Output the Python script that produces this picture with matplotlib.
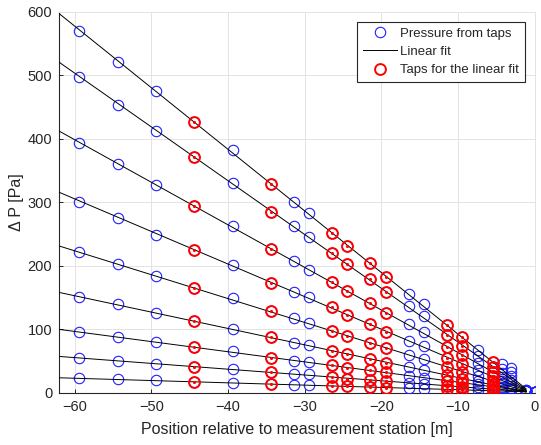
import numpy as np
import matplotlib
matplotlib.use("Agg")
import matplotlib.pyplot as plt

# tap positions relative to the measurement station [m]
tap_x = [-59.4, -54.4, -49.4, -44.4, -39.4, -34.4, -31.4, -29.4, -26.4, -24.4, -21.4,
         -19.4, -16.4, -14.4, -11.4, -9.4, -7.4, -5.4, -4.2, -3.1, -1.1, 0.0]

# taps used for the linear fit
fit_x = [-44.4, -34.4, -26.4, -24.4, -21.4, -19.4, -11.4, -9.4, -5.4]

# pressure difference at each tap, one list per run [Pa]
dp_1 = [570, 521, 475, 427, 382, 328, 301, 283, 252, 231, 204, 183, 155, 140, 106, 87, 67, 48, 45, 39, 4, 1]
dp_2 = [497, 453, 412, 371, 331, 285, 262, 245, 220, 202, 179, 159, 136, 121, 91, 74, 58, 41, 38, 33, 4, 1]
dp_3 = [394, 360, 327, 294, 262, 226, 207, 194, 174, 160, 141, 126, 108, 96, 72, 59, 47, 33, 31, 26, 3, 1]
dp_4 = [301, 275, 249, 225, 201, 173, 159, 150, 135, 123, 108, 96, 82, 73, 55, 45, 36, 26, 25, 20, 3, 1]
dp_5 = [222, 203, 184, 165, 149, 128, 117, 109, 97, 89, 78, 70, 59, 53, 41, 33, 27, 19, 19, 15, 3, 1]
dp_6 = [151, 139, 126, 113, 101, 87, 79, 75, 66, 61, 53, 47, 41, 36, 28, 22, 19, 13, 14, 10, 2, 1]
dp_7 = [96, 88, 80, 72, 65, 55, 50, 49, 43, 39, 35, 32, 27, 23, 19, 16, 13, 9, 9.5, 8, 2, 1]
dp_8 = [55, 50, 45, 41, 37, 33, 29.5, 29, 24, 22, 20, 18.5, 16, 14, 11, 9, 9, 6, 7, 5.5, 2, 1]
dp_9 = [23, 21.5, 19.5, 17.5, 16, 13, 12, 12, 10.5, 10, 9, 8, 8, 6, 6, 4, 5, 3, 4, 3.8, 2, 1]

runs = [dp_1, dp_2, dp_3, dp_4, dp_5, dp_6, dp_7, dp_8, dp_9]

x_ticks = [-60, -50, -40, -30, -20, -10, 0]
y_ticks = [0, 100, 200, 300, 400, 500, 600]


def main():
    plt.rcParams["font.family"] = ["Liberation Sans", "DejaVu Sans"]

    fig = plt.figure(figsize=(5.41, 4.45), dpi=100)
    ax = fig.add_axes([0.1096, 0.1175, 0.8784, 0.8562])

    tap_x_arr = np.array(tap_x)
    fit_mask = np.isin(tap_x_arr, fit_x)
    line_x = np.array([-62.0, tap_x[-2]])

    for i, dp in enumerate(runs):
        dp = np.array(dp, dtype=float)
        ax.plot(tap_x_arr, dp, "o", mfc="none", mec="#2020ff", ms=7.5, mew=0.8,
                label="Pressure from taps" if i == 0 else None, zorder=3)
        # linear fit through the red taps
        k, b = np.polyfit(tap_x_arr[fit_mask], dp[fit_mask], 1)
        ax.plot(line_x, k * line_x + b, "-", color="black", lw=0.7,
                label="Linear fit" if i == 0 else None, zorder=4)
        ax.plot(tap_x_arr[fit_mask], dp[fit_mask], "o", mfc="none", mec="#ff0000",
                ms=7.8, mew=1.4, label="Taps for the linear fit" if i == 0 else None, zorder=5)
        ax.plot(tap_x_arr[fit_mask], dp[fit_mask], ".", color="#ff0000", ms=2.5, zorder=6)

    ax.set_xlim(-62, 0)
    ax.set_ylim(0, 600)
    ax.set_xticks(x_ticks)
    ax.set_yticks(y_ticks)
    ax.grid(True, color="#e3e3e3", lw=0.7)
    ax.set_axisbelow(True)

    for side in ["left", "bottom"]:
        ax.spines[side].set_color("#262626")
        ax.spines[side].set_linewidth(0.8)
    for side in ["top", "right"]:
        ax.spines[side].set_color("#e3e3e3")
        ax.spines[side].set_linewidth(0.7)

    ax.tick_params(direction="in", length=3, width=0.7, colors="#262626",
                   labelsize=10.5, labelcolor="#262626", pad=5)

    ax.set_xlabel("Position relative to measurement station [m]", fontsize=11.5,
                  color="#262626", labelpad=6)
    ax.set_ylabel("\u0394 P [Pa]", fontsize=11.5, color="#262626", labelpad=3)

    leg = ax.legend(loc="upper right", fontsize=9.5, fancybox=False, framealpha=1,
                    edgecolor="#262626", handlelength=2.6, handletextpad=0.2,
                    borderpad=0.45, labelspacing=0.45, borderaxespad=0.75)
    leg.get_frame().set_linewidth(0.8)
    for txt in leg.get_texts():
        txt.set_color("#262626")

    fig.savefig("out.png", dpi=100)


if __name__ == "__main__":
    main()
